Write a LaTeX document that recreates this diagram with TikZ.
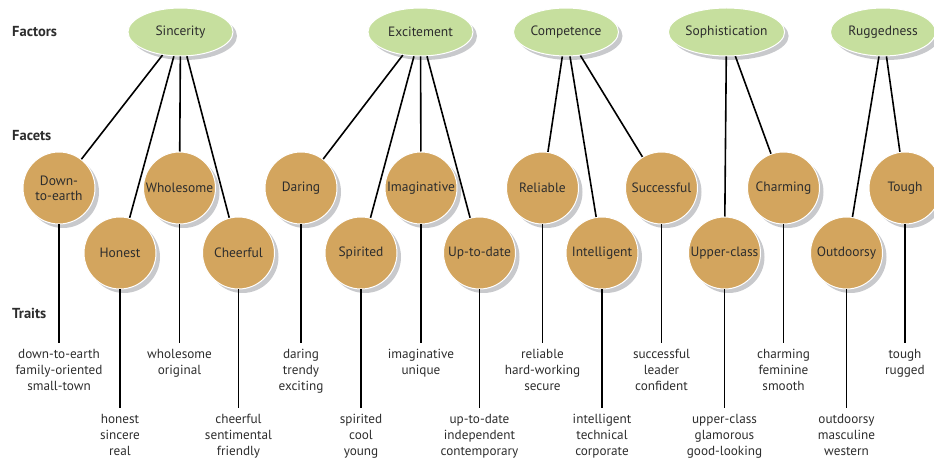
\documentclass[tikz,border=0pt]{standalone}
\usepackage{fontspec}
\setmainfont{PT Sans}
\usetikzlibrary{shapes.geometric,shadows}
\definecolor{factorgreen}{RGB}{198,223,158}
\definecolor{facettan}{RGB}{211,165,94}
\definecolor{shadowgray}{RGB}{200,201,204}
\definecolor{txt}{RGB}{45,45,45}
\tikzset{
  factor/.style={ellipse, fill=factorgreen, draw=white, line width=1pt,
    minimum width=105pt, minimum height=48pt, inner sep=0pt, text=txt,
    font=\fontsize{13.5}{15}\selectfont,
    drop shadow={shadow xshift=4pt, shadow yshift=-4pt, fill=shadowgray, opacity=1, draw=none}},
  facet/.style={circle, fill=facettan, draw=white, line width=1pt,
    minimum size=72pt, inner sep=0pt, align=center, text=txt,
    font=\fontsize{13.5}{15}\selectfont,
    drop shadow={shadow xshift=4pt, shadow yshift=-4pt, fill=shadowgray, opacity=1, draw=none}},
  trait/.style={align=center, anchor=north, inner xsep=0pt, inner ysep=6pt, text=txt,
    font=\fontsize{13.2}{16}\selectfont},
  heading/.style={anchor=west, inner sep=0pt, font=\fontsize{14.5}{16}\selectfont\bfseries, text=txt},
  link/.style={line width=1.6pt, black}
}
\begin{document}
\begin{tikzpicture}[x=1pt,y=-1pt]
\useasboundingbox (0,0) rectangle (934,462);
% headings
\node[heading] (hfac) at (12,32) {Factors};
\node[heading] (hfct) at (12,136) {Facets};
\node[heading] (htr) at (12,313) {Traits};
% factors
\node[factor] (sinc) at (180.5,32) {Sincerity};
\node[factor] (exc) at (420.5,32) {Excitement};
\node[factor] (comp) at (566,32) {Competence};
\node[factor] (soph) at (726.5,32) {Sophistication};
\node[factor] (rugg) at (883,32) {Ruggedness};
% facets
\node[facet] (f1) at (59,188) {Down-\\to-earth};
\node[facet] (f2) at (120,253) {Honest};
\node[facet] (f3) at (179.5,188) {Wholesome};
\node[facet] (f4) at (238.5,253) {Cheerful};
\node[facet] (f5) at (301,188) {Daring};
\node[facet] (f6) at (361,253) {Spirited};
\node[facet] (f7) at (421,188) {Imaginative};
\node[facet] (f8) at (479.5,253) {Up-to-date};
\node[facet] (f9) at (542.5,188) {Reliable};
\node[facet] (f10) at (602,253) {Intelligent};
\node[facet] (f11) at (661.5,188) {Successful};
\node[facet] (f12) at (724.5,253) {Upper-class};
\node[facet] (f13) at (783.5,188) {Charming};
\node[facet] (f14) at (846.5,253) {Outdoorsy};
\node[facet] (f15) at (905,188) {Tough};
% traits
\node[trait] (t1) at (59,343) {down-to-earth\\family-oriented\\small-town};
\node[trait] (t2) at (120,408) {honest\\sincere\\real};
\node[trait] (t3) at (179.5,343) {wholesome\\original};
\node[trait] (t4) at (238.5,408) {cheerful\\sentimental\\friendly};
\node[trait] (t5) at (301,343) {daring\\trendy\\exciting};
\node[trait] (t6) at (361,408) {spirited\\cool\\young};
\node[trait] (t7) at (421,343) {imaginative\\unique};
\node[trait] (t8) at (479.5,408) {up-to-date\\independent\\contemporary};
\node[trait] (t9) at (542.5,343) {reliable\\hard-working\\secure};
\node[trait] (t10) at (602,408) {intelligent\\technical\\corporate};
\node[trait] (t11) at (661.5,343) {successful\\leader\\confident};
\node[trait] (t12) at (724.5,408) {upper-class\\glamorous\\good-looking};
\node[trait] (t13) at (783.5,343) {charming\\feminine\\smooth};
\node[trait] (t14) at (846.5,408) {outdoorsy\\masculine\\western};
\node[trait] (t15) at (905,343) {tough\\rugged};
% factor-facet links
\draw[link] (sinc) -- (f1);
\draw[link] (sinc) -- (f2);
\draw[link] (sinc) -- (f3);
\draw[link] (sinc) -- (f4);
\draw[link] (exc) -- (f5);
\draw[link] (exc) -- (f6);
\draw[link] (exc) -- (f7);
\draw[link] (exc) -- (f8);
\draw[link] (comp) -- (f9);
\draw[link] (comp) -- (f10);
\draw[link] (comp) -- (f11);
\draw[link] (soph) -- (f12);
\draw[link] (soph) -- (f13);
\draw[link] (rugg) -- (f14);
\draw[link] (rugg) -- (f15);
% facet-trait links
\foreach \i in {1,...,15} { \draw[link] (f\i.south) -- (t\i.north); }
\end{tikzpicture}
\end{document}
